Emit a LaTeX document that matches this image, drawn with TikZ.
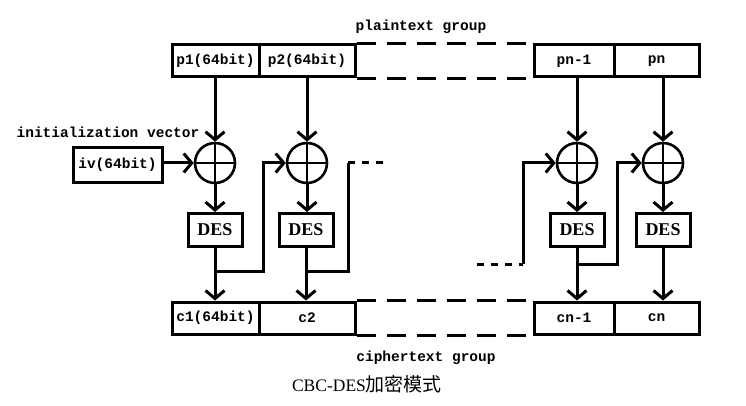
\documentclass[tikz,border=0pt]{standalone}
\usepackage{fontspec}
\setmainfont{Liberation Serif}
\setmonofont{Liberation Mono}
\newfontfamily\cjk{Noto Sans CJK SC}
\usetikzlibrary{arrows.meta,calc}
\begin{document}
\begin{tikzpicture}[x=1pt,y=-1pt,
  lw/.style={line width=3pt},
  cell/.style={draw,lw,inner sep=0pt,minimum height=32pt,font=\fontsize{14.5}{14.5}\selectfont\ttfamily\bfseries},
  desbox/.style={draw,lw,inner sep=0pt,minimum width=54pt,minimum height=33pt,font=\fontsize{18}{18}\selectfont\bfseries},
  xorc/.style={draw,circle,line width=2.6pt,inner sep=0pt,minimum size=40pt},
  lbl/.style={inner sep=0pt,font=\fontsize{14.5}{14.5}\selectfont\ttfamily\bfseries},
  arr/.style={lw,-{Straight Barb[length=8pt,width=19pt]}},
  wire/.style={lw},
  bigdash/.style={lw,dash pattern=on 19pt off 11pt},
  smalldash/.style={lw,dash pattern=on 7pt off 7pt}]
\useasboundingbox (0,0) rectangle (746,406);
% plaintext bar
\node[cell,minimum width=87pt] (p1) at (215.5,61) {p1(64bit)};
\node[cell,minimum width=96pt] (p2) at (307,61) {p2(64bit)};
\node[cell,minimum width=80pt] (pn1) at (574,61) {pn-1};
\node[cell,minimum width=85pt] (pn) at (656.5,61) {pn};
\draw[bigdash] (p2.north east) -- (pn1.north west);
\draw[bigdash] (p2.south east) -- (pn1.south west);
\node[lbl] (ptg) at (421,27) {plaintext group};
% ciphertext bar
\node[cell,minimum width=87pt] (c1) at (215.5,318) {c1(64bit)};
\node[cell,minimum width=96pt] (c2) at (307,318) {c2};
\node[cell,minimum width=80pt] (cn1) at (574,318) {cn-1};
\node[cell,minimum width=85pt] (cn) at (656.5,318) {cn};
\draw[bigdash] (c2.north east) -- (cn1.north west);
\draw[bigdash] (c2.south east) -- (cn1.south west);
\node[lbl] (ctg) at (426,358) {ciphertext group};
% caption
\node[inner sep=0pt] (cap) at (367,384) {{\fontsize{17.5}{17.5}\selectfont CBC-DES}{\cjk\fontsize{19}{19}\selectfont 加密模式}};
% iv
\node[lbl] (ivl) at (108,132) {initialization vector};
\node[cell,minimum width=89pt,minimum height=34pt] (iv) at (117.5,165) {iv(64bit)};
% xor circles
\foreach \n/\x in {x1/215,x2/307,x3/577,x4/663}{
  \node[xorc] (\n) at (\x,163) {};
  \draw[line width=2.6pt] (\n.north) -- (\n.south) (\n.west) -- (\n.east);
}
% DES boxes
\node[desbox] (d1) at (215,230) {DES};
\node[desbox] (d2) at (306,230) {DES};
\node[desbox] (d3) at (577,230) {DES};
\node[desbox] (d4) at (663,230) {DES};
% vertical arrows
\draw[arr] (p1.south -| x1) -- (x1.north);
\draw[arr] (p2.south -| x2) -- (x2.north);
\draw[arr] (pn1.south -| x3) -- (x3.north);
\draw[arr] (pn.south -| x4) -- (x4.north);
\draw[arr] (x1.south) -- (d1.north -| x1);
\draw[arr] (x2.south) -- (d2.north -| x2);
\draw[arr] (x3.south) -- (d3.north);
\draw[arr] (x4.south) -- (d4.north);
\draw[arr] (d1.south) -- (c1.north -| d1);
\draw[arr] (d2.south) -- (c2.north -| d2);
\draw[arr] (d3.south) -- (cn1.north -| d3);
\draw[arr] (d4.south) -- (cn.north -| d4);
\draw[arr] (iv.east |- x1.west) -- (x1.west);
% chaining
\coordinate (b1) at (215,271);
\coordinate (k1) at (263,163);
\draw[arr] (b1) -| (k1) -- (x2.west);
\coordinate (b2) at (306,271);
\coordinate (k2) at (348,163);
\coordinate (e2) at (383,163);
\draw[wire] (b2) -| (k2);
\draw[smalldash] (k2) -- (e2);
\coordinate (s3) at (477,264);
\coordinate (k3) at (523,264);
\draw[smalldash] (s3) -- (k3);
\draw[arr] (k3) |- (x3.west);
\coordinate (b3) at (577,264);
\coordinate (k4) at (617,163);
\draw[arr] (b3) -| (k4) -- (x4.west);
\end{tikzpicture}
\end{document}
